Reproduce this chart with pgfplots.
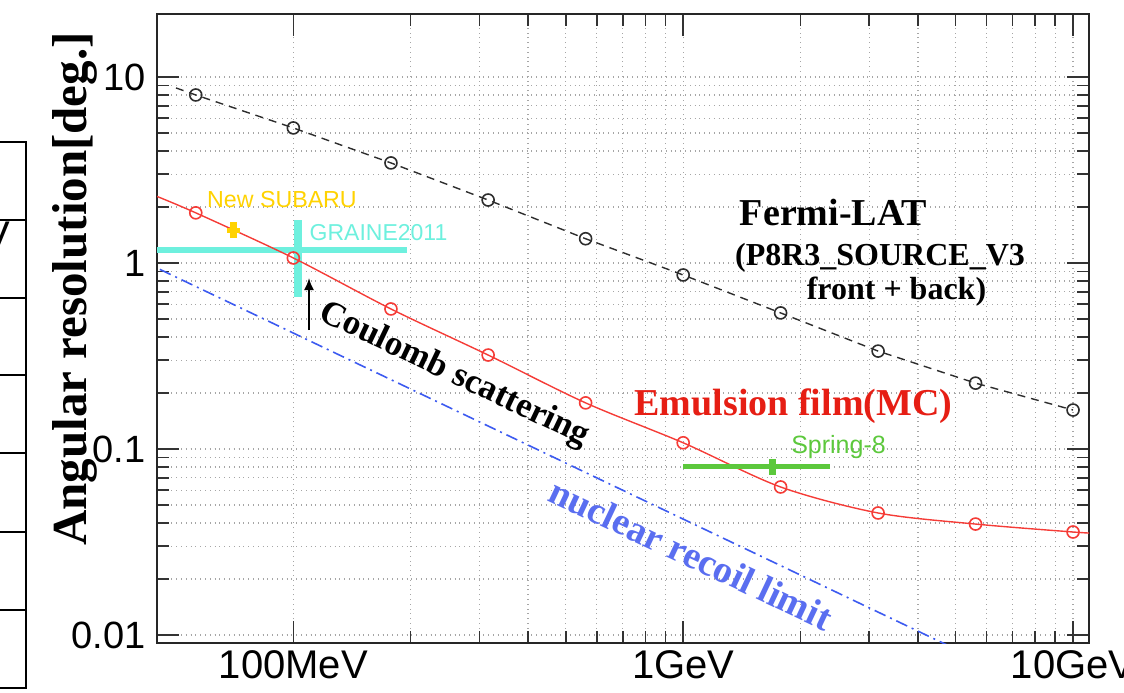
\documentclass[border=0pt]{standalone}
\usepackage{pgfplots}
\pgfplotsset{compat=1.18}
\usepackage{fontspec}
\setmainfont{Liberation Serif}
\setsansfont{Liberation Sans}
\usetikzlibrary{arrows.meta}
\definecolor{emred}{RGB}{245,60,55}
\definecolor{emtext}{RGB}{230,30,20}
\definecolor{fermi}{RGB}{45,45,45}
\definecolor{blueline}{RGB}{60,90,240}
\definecolor{bluetext}{RGB}{90,110,240}
\definecolor{cyanc}{RGB}{110,240,222}
\definecolor{greenc}{RGB}{92,200,60}
\definecolor{yellowc}{RGB}{255,210,0}
\begin{document}
\begin{tikzpicture}
\path[use as bounding box] (0,0) rectangle (562pt,346pt);
% cropped table on the left
\draw[line width=1pt] (13pt,2pt) -- (13pt,275pt);
\foreach \yy in {275,236,197,158.5,119.5,80,41,2} \draw[line width=1pt] (-1pt,\yy pt) -- (13.5pt,\yy pt);
\node[font=\sffamily\fontsize{20}{20}\selectfont, anchor=east, inner sep=0pt] at (5.5pt,228pt) {V};
\begin{axis}[
  at={(78.5pt,24.5pt)}, anchor=south west, scale only axis,
  width=466pt, height=314.5pt,
  xmode=log, ymode=log,
  xmin=44.7, xmax=10990, ymin=0.00906, ymax=21.8,
  xtick={100,1000,10000}, xticklabels={100MeV,1GeV,10GeV},
  ytick={0.01,0.1,1,10}, yticklabels={0.01,0.1,1,10},
  grid=both,
  major grid style={black!35, dotted, line width=0.6pt},
  minor grid style={black!35, dotted, line width=0.6pt},
  axis line style={line width=1pt, black!85},
  major tick length=11pt, minor tick length=6pt,
  tick style={line width=0.8pt, black!80},
  xticklabel style={font=\sffamily\fontsize{20}{20}\selectfont, inner sep=0pt, yshift=-3.5pt},
  yticklabel style={font=\sffamily\fontsize{19}{19}\selectfont, inner sep=0pt, xshift=-5.5pt},
]
% nuclear recoil limit
\addplot[blueline, line width=0.8pt, dash pattern=on 6pt off 2.5pt on 1pt off 2.5pt] coordinates {(40,1.05) (5000,0.0084)};
% GRAINE2011
\addplot[cyanc, line width=3pt] coordinates {(40,1.175) (196,1.175)};
\addplot[cyanc, line width=4pt] coordinates {(103,0.656) (103,1.70)};
% Fermi-LAT
\addplot[fermi, line width=0.7pt, dash pattern=on 4pt off 3pt] coordinates {
 (50,8.73) (56.2,8.0) (100,5.32) (178,3.45) (316,2.18) (562,1.35) (1000,0.862) (1778,0.539) (3162,0.336) (5623,0.226) (10000,0.162)};
\addplot[fermi, only marks, mark=o, mark size=3pt, mark options={line width=0.8pt}] coordinates {
 (56.2,8.0) (100,5.32) (178,3.45) (316,2.18) (562,1.35) (1000,0.862) (1778,0.539) (3162,0.336) (5623,0.226) (10000,0.162)};
% Emulsion film (MC)
\addplot[emred, line width=0.7pt, smooth] coordinates {
 (44,2.31) (56.2,1.86) (100,1.064) (178,0.566) (316,0.320) (562,0.177) (1000,0.108) (1778,0.0625) (3162,0.0453) (5623,0.0395) (10000,0.0358) (11500,0.0352)};
\addplot[emred, only marks, mark=o, mark size=3pt, mark options={line width=0.8pt}] coordinates {
 (56.2,1.86) (100,1.064) (178,0.566) (316,0.320) (562,0.177) (1000,0.108) (1778,0.0625) (3162,0.0453) (5623,0.0395) (10000,0.0358)};
% Spring-8
\addplot[greenc, line width=2.5pt] coordinates {(1000,0.081) (2382,0.081)};
\addplot[greenc, line width=3.5pt] coordinates {(1691,0.0726) (1691,0.0885)};
% New SUBARU
\addplot[yellowc, line width=3.5pt] coordinates {(70.2,1.36) (70.2,1.66)};
\addplot[yellowc, line width=2.5pt] coordinates {(67.5,1.50) (72.8,1.50)};
\end{axis}
% y label
\node[rotate=90, font=\bfseries\fontsize{24.5}{24.5}\selectfont, inner sep=0pt] at (37.5pt,201.5pt) {Angular resolution[deg.]};
% annotations
\node[font=\bfseries\fontsize{19}{19}\selectfont, inner sep=0pt] at (416.75pt,240pt) {Fermi-LAT};
\node[font=\bfseries\fontsize{16}{16}\selectfont, inner sep=0pt] at (440pt,217pt) {(P8R3\_SOURCE\_V3};
\node[font=\bfseries\fontsize{16}{16}\selectfont, inner sep=0pt] at (448.25pt,200pt) {front + back)};
\node[text=emtext, font=\bfseries\fontsize{19}{19}\selectfont, inner sep=0pt] at (396.75pt,143pt) {Emulsion film(MC)};
\node[rotate=-25.5, font=\bfseries\fontsize{17.5}{17.5}\selectfont, inner sep=0pt] at (227pt,158.5pt) {Coulomb scattering};
\node[rotate=-25.3, text=bluetext, font=\bfseries\fontsize{19}{19}\selectfont, inner sep=0pt] at (345.5pt,69pt) {nuclear recoil limit};
\node[text=yellowc, font=\sffamily\fontsize{11.6}{11.6}\selectfont, inner sep=0pt] at (141pt,246pt) {New SUBARU};
\node[text=cyanc, font=\sffamily\fontsize{11.5}{11.5}\selectfont, inner sep=0pt] at (189.25pt,229.5pt) {GRAINE2011};
\node[text=greenc, font=\sffamily\fontsize{12.5}{12.5}\selectfont, inner sep=0pt] at (419.25pt,122.5pt) {Spring-8};
\draw[-{Latex[length=6pt,width=5pt]}, line width=0.9pt] (154.5pt,181pt) -- (154.5pt,207pt);
\end{tikzpicture}
\end{document}
